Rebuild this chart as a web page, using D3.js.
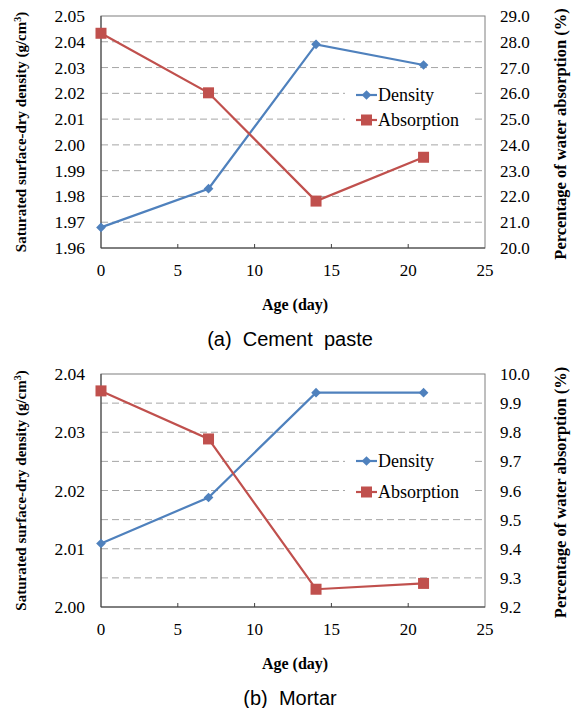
<!DOCTYPE html>
<html>
<head>
<meta charset="utf-8">
<script src="https://cdn.jsdelivr.net/npm/d3@7"></script>
<style>
  body { margin: 0; background: #fff; }
  svg { display: block; }
  text { font-family: "Liberation Serif", "Times New Roman", serif; fill: #000; }
  .caption { font-family: "Liberation Sans", Arial, sans-serif; font-size: 20px; white-space: pre; }
</style>
</head>
<body>
<div id="chart"></div>
<script>
// --- data ---
const ages = [0, 7, 14, 21];
const xTicks = [0, 5, 10, 15, 20, 25];

// (a) cement paste
const pasteDensity = [1.968, 1.983, 2.039, 2.031];
const pasteAbsorption = [28.33, 26.02, 21.82, 23.52];
const pasteLeftTicks = [1.96, 1.97, 1.98, 1.99, 2.00, 2.01, 2.02, 2.03, 2.04, 2.05];
const pasteRightTicks = [20, 21, 22, 23, 24, 25, 26, 27, 28, 29];

// (b) mortar
const mortarDensity = [2.0109, 2.0188, 2.0368, 2.0368];
const mortarAbsorption = [9.942, 9.777, 9.261, 9.281];
const mortarLeftTicks = [2.00, 2.01, 2.02, 2.03, 2.04];
const mortarRightTicks = [9.2, 9.3, 9.4, 9.5, 9.6, 9.7, 9.8, 9.9, 10.0];

const seriesNames = ["Density", "Absorption"];
const blue = "#4f81bd", red = "#c0504d";
const serif = '"Liberation Serif", "Times New Roman", serif';

const W = 577, H = 708;
const svg = d3.select("#chart").append("svg").attr("width", W).attr("height", H);

function drawPanel(p) {
    const g = svg.append("g");
    const x = d3.scaleLinear().domain([0, 25]).range([101, 485]);
    const yL = d3.scaleLinear().domain(p.leftDomain).range([p.bottom, p.top]);
    const yR = d3.scaleLinear().domain(p.rightDomain).range([p.bottom, p.top]);

    // dashed gridlines on the secondary axis ticks
    g.selectAll(".grid").data(p.gridTicks.slice(1, -1)).enter().append("line")
        .attr("x1", x(0)).attr("x2", x(25))
        .attr("y1", d => yR(d)).attr("y2", d => yR(d))
        .attr("stroke", "#a6a6a6").attr("stroke-dasharray", "7,4").attr("stroke-width", 1);

    // legend background (hides the gridlines behind it)
    g.append("rect").attr("x", 345).attr("y", p.legendY - 14).attr("width", 127).attr("height", p.legendGap + 28)
        .attr("fill", "#fff");

    // frame
    g.append("rect").attr("x", x(0)).attr("y", p.top).attr("width", x(25) - x(0)).attr("height", p.bottom - p.top)
        .attr("fill", "none").attr("stroke", "#7f7f7f").attr("stroke-width", 1);
    g.append("line").attr("x1", x(0)).attr("x2", x(0)).attr("y1", p.top).attr("y2", p.bottom)
        .attr("stroke", "#404040");
    g.append("line").attr("x1", x(0)).attr("x2", x(25)).attr("y1", p.bottom).attr("y2", p.bottom)
        .attr("stroke", "#404040");

    // x ticks (inside) and labels
    g.selectAll(".xt").data(xTicks.slice(1, -1)).enter().append("line")
        .attr("x1", d => x(d)).attr("x2", d => x(d))
        .attr("y1", p.bottom).attr("y2", p.bottom - 4).attr("stroke", "#404040");
    g.selectAll(".xl").data(xTicks).enter().append("text")
        .attr("x", d => x(d)).attr("y", p.bottom + 28)
        .attr("text-anchor", "middle").style("font-family", serif).style("font-size", "17px")
        .text(d => d);

    // left labels
    g.selectAll(".yl").data(p.leftTicks).enter().append("text")
        .attr("x", 85).attr("y", d => yL(d) + 6)
        .attr("text-anchor", "end").style("font-family", serif).style("font-size", "17.5px")
        .text(d => d.toFixed(2));

    // right labels
    g.selectAll(".yr").data(p.rightTicks).enter().append("text")
        .attr("x", 500).attr("y", d => yR(d) + 6)
        .style("font-family", serif).style("font-size", "17px")
        .text(d => d.toFixed(1));

    // axis titles
    g.append("text")
        .attr("transform", `translate(26,${(p.top + p.bottom) / 2}) rotate(-90)`)
        .attr("text-anchor", "middle").style("font-family", serif)
        .style("font-size", "15px").style("font-weight", "bold")
        .html('Saturated surface-dry density (g/cm<tspan baseline-shift="super" font-size="10px">3</tspan>)');
    g.append("text")
        .attr("transform", `translate(566,${(p.top + p.bottom) / 2 + 2}) rotate(-90)`)
        .attr("text-anchor", "middle").style("font-family", serif)
        .style("font-size", "16.5px").style("font-weight", "bold")
        .text("Percentage of water absorption (%)");
    g.append("text")
        .attr("x", 295).attr("y", p.bottom + 62)
        .attr("text-anchor", "middle").style("font-family", serif)
        .style("font-size", "16px").style("font-weight", "bold")
        .text("Age (day)");

    // caption
    g.append("text").attr("class", "caption")
        .attr("x", 290).attr("y", p.bottom + 98)
        .attr("text-anchor", "middle")
        .text(p.caption);

    // series
    const line = (ys, sc) => d3.line().x((d, i) => x(ages[i])).y(d => sc(d))(ys);
    g.append("path").attr("d", line(p.density, yL)).attr("fill", "none")
        .attr("stroke", blue).attr("stroke-width", 2.2);
    g.append("path").attr("d", line(p.absorption, yR)).attr("fill", "none")
        .attr("stroke", red).attr("stroke-width", 2.2);

    const diamond = d3.symbol().type(d3.symbolDiamond2).size(60);
    g.selectAll(".dm").data(p.density).enter().append("path")
        .attr("d", diamond)
        .attr("transform", (d, i) => `translate(${x(ages[i])},${yL(d)})`)
        .attr("fill", blue);
    g.selectAll(".sq").data(p.absorption).enter().append("rect")
        .attr("x", (d, i) => x(ages[i]) - 5.5).attr("y", d => yR(d) - 5.5)
        .attr("width", 11).attr("height", 11)
        .attr("fill", red);

    // legend
    const lg = g.append("g");
    [blue, red].forEach((c, i) => {
        const ly = p.legendY + i * p.legendGap;
        lg.append("line").attr("x1", 356).attr("x2", 377).attr("y1", ly).attr("y2", ly)
            .attr("stroke", c).attr("stroke-width", 2.2);
        if (i === 0) {
            lg.append("path").attr("d", diamond).attr("transform", `translate(366.5,${ly})`).attr("fill", c);
        } else {
            lg.append("rect").attr("x", 361).attr("y", ly - 5.5).attr("width", 11).attr("height", 11).attr("fill", c);
        }
        lg.append("text").attr("x", 378).attr("y", ly + 6)
            .style("font-family", serif).style("font-size", "18px").text(seriesNames[i]);
    });
}

drawPanel({
    top: 16, bottom: 248,
    leftDomain: [1.96, 2.05], rightDomain: [20, 29],
    leftTicks: pasteLeftTicks, rightTicks: pasteRightTicks, gridTicks: pasteRightTicks,
    density: pasteDensity, absorption: pasteAbsorption,
    legendY: 95, legendGap: 25,
    caption: "(a)  Cement  paste"
});

drawPanel({
    top: 374, bottom: 607,
    leftDomain: [2.00, 2.04], rightDomain: [9.2, 10.0],
    leftTicks: mortarLeftTicks, rightTicks: mortarRightTicks, gridTicks: mortarRightTicks,
    density: mortarDensity, absorption: mortarAbsorption,
    legendY: 461, legendGap: 31,
    caption: "(b)  Mortar"
});
</script>
</body>
</html>
